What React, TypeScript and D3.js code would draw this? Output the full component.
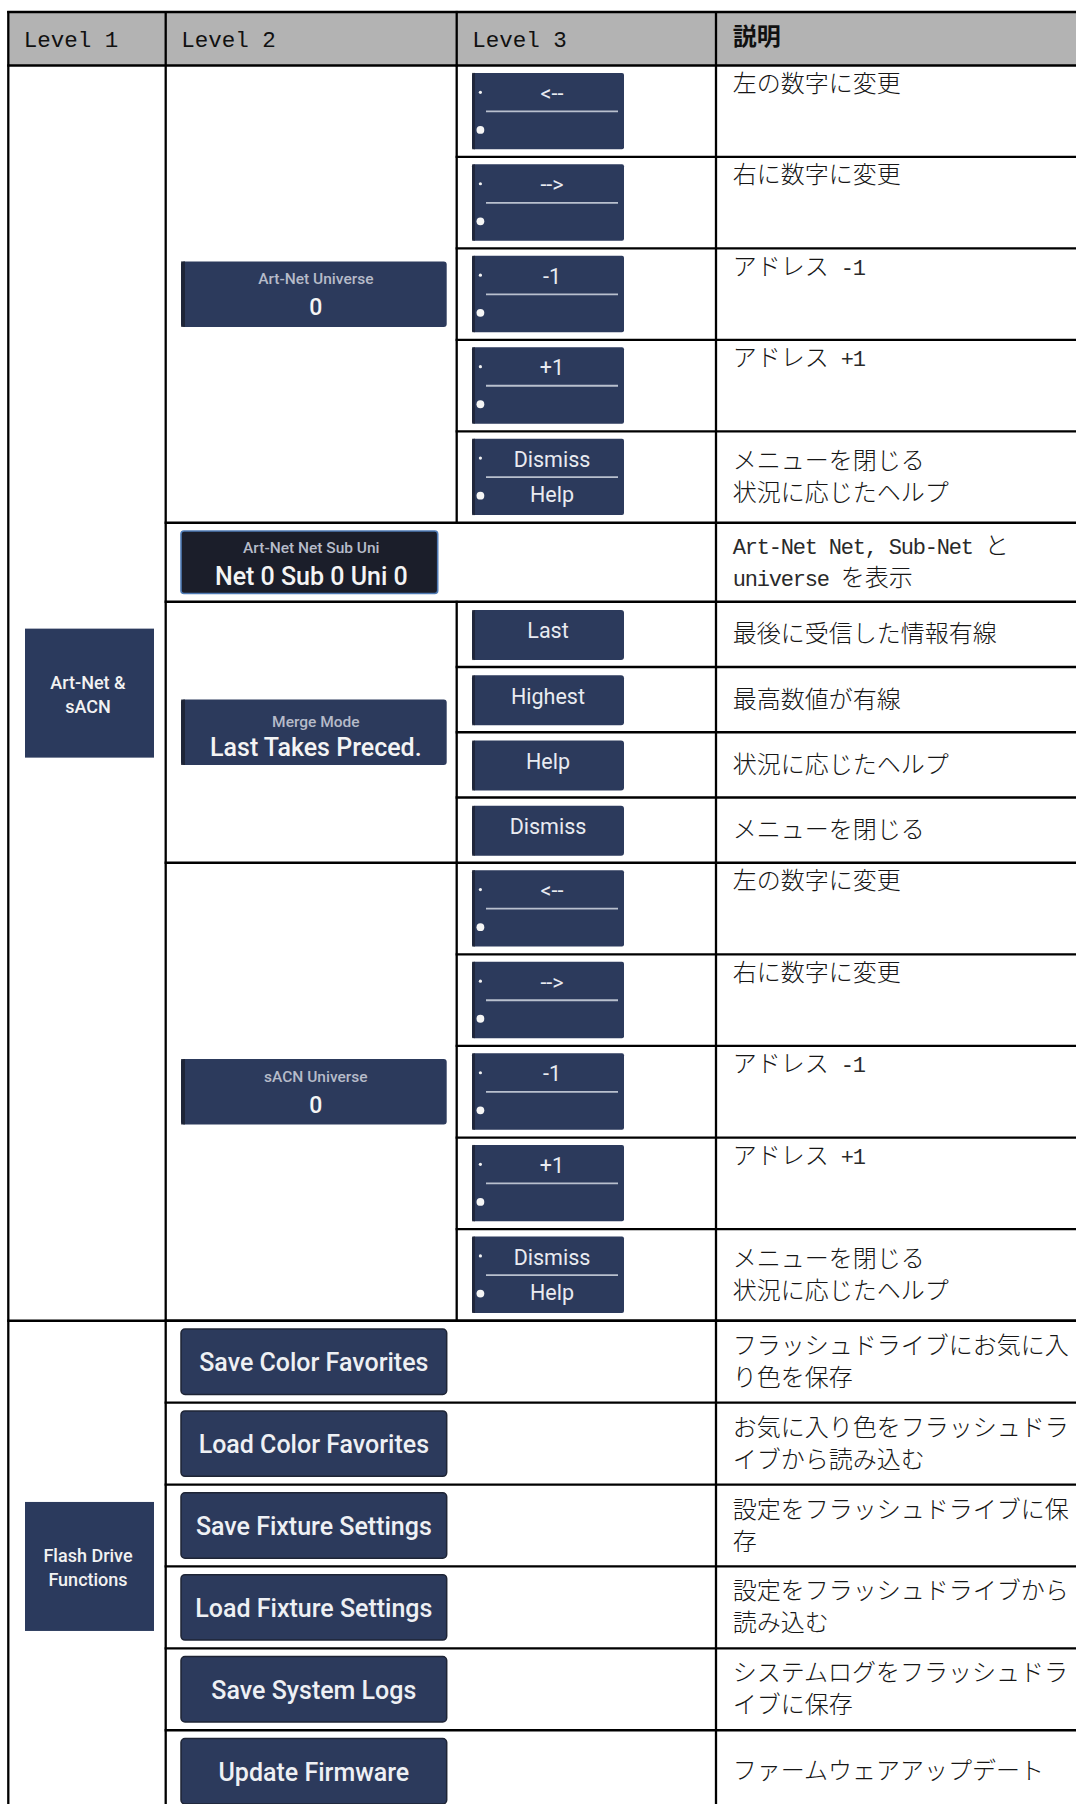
import * as d3 from "d3";

// ---- table content ----
const headers = ["Level 1", "Level 2", "Level 3", "説明"];
const level1Names = [
  ["Art-Net &", "sACN"],
  ["Flash Drive", "Functions"],
];

const universeKeys = ["<--", "-->", "-1", "+1", "Dismiss"];
const universeSubKeys = ["", "", "", "", "Help"];
const universeDesc = [
  ["左の数字に変更"],
  ["右に数字に変更"],
  ["アドレス -1"],
  ["アドレス +1"],
  ["メニューを閉じる", "状況に応じたヘルプ"],
];

const artNetPanel = ["Art-Net Universe", "0"];
const netPanel = ["Art-Net Net Sub Uni", "Net 0 Sub 0 Uni 0"];
const netDesc = ["Art-Net Net, Sub-Net と", "universe を表示"];

const mergePanel = ["Merge Mode", "Last Takes Preced."];
const mergeKeys = ["Last", "Highest", "Help", "Dismiss"];
const mergeDesc = [
  ["最後に受信した情報有線"],
  ["最高数値が有線"],
  ["状況に応じたヘルプ"],
  ["メニューを閉じる"],
];

const sacnPanel = ["sACN Universe", "0"];

const flashKeys = [
  "Save Color Favorites",
  "Load Color Favorites",
  "Save Fixture Settings",
  "Load Fixture Settings",
  "Save System Logs",
  "Update Firmware",
];
const flashDesc = [
  ["フラッシュドライブにお気に入", "り色を保存"],
  ["お気に入り色をフラッシュドラ", "イブから読み込む"],
  ["設定をフラッシュドライブに保", "存"],
  ["設定をフラッシュドライブから", "読み込む"],
  ["システムログをフラッシュドラ", "イブに保存"],
  ["ファームウェアアップデート"],
];

// ---- layout ----
const width = 1076;
const height = 1804;
const tableLeft = 8.3;
const tableTop = 12;
const headerH = 53.5;
const colW = [157.4, 291, 259.3, 400];
const colX = [tableLeft, ...Array.from(d3.cumsum(colW), (c) => tableLeft + c)];
const bodyTop = tableTop + headerH;

const navy = "#2c3a5c";
const edge = "#1b2030";
const ui = "Roboto, 'Noto Sans', sans-serif";
const mono = "'Liberation Mono', 'DejaVu Sans Mono', monospace";
const jp = "'Noto Sans CJK JP', 'Noto Sans', sans-serif";

const groups = [
  { kind: "universe", l1: 0, n: 5, h: 91.45, panel: artNetPanel, keys: universeKeys, subs: universeSubKeys, desc: universeDesc },
  { kind: "net", l1: 0, n: 1, h: 79, panel: netPanel, desc: [netDesc] },
  { kind: "merge", l1: 0, n: 4, h: 65.25, panel: mergePanel, keys: mergeKeys, desc: mergeDesc },
  { kind: "universe", l1: 0, n: 5, h: 91.6, panel: sacnPanel, keys: universeKeys, subs: universeSubKeys, desc: universeDesc },
  { kind: "flash", l1: 1, n: 6, h: 81.9, keys: flashKeys, desc: flashDesc },
];
const groupTops = [bodyTop, ...Array.from(d3.cumsum(groups, (g) => g.n * g.h), (c) => bodyTop + c)];

function splitRuns(s) {
  return s.split(/([\x20-\x7e]+)/).filter((r) => r.length);
}

function DescText({ lines, top, h, topAlign }) {
  const pitch = 32;
  const cy = top + h / 2;
  const first = topAlign ? top + 26.5 : cy - ((lines.length - 1) * pitch) / 2 + 8;
  return (
    <text x={colX[3] + 16.7} fontSize={24} fontFamily={jp} fontWeight={300} fill="#161616" style={{ whiteSpace: "pre" }}>
      {lines.map((line, i) => (
        <tspan key={i} x={colX[3] + 16.7} y={first + i * pitch}>
          {splitRuns(line).map((r, j) =>
            /^[\x20-\x7e]+$/.test(r) ? (
              <tspan key={j} fontFamily={mono} fontSize={22} letterSpacing={-1.2} fill="#2a2a2a">
                {r}
              </tspan>
            ) : (
              <tspan key={j}>{r}</tspan>
            )
          )}
        </tspan>
      ))}
    </text>
  );
}

function SplitKey({ top, main, sub }) {
  const x = colX[2] + 15.3;
  const w = 152;
  const h = 76.4;
  return (
    <g>
      <rect x={x} y={top} width={w} height={h} fill={navy} rx={2} />
      <rect x={x} y={top} width={3} height={h} fill={edge} opacity={0.75} />
      <text x={x + w / 2 + 4} y={top + 28} textAnchor="middle" fontFamily={ui} fontWeight={400} fontSize={21.5} fill="#e9ebf1">
        {main}
      </text>
      <line x1={x + 14} x2={x + 146} y1={top + 38.5} y2={top + 38.5} stroke="#b9c0ce" strokeWidth={1.8} />
      {sub && (
        <text x={x + w / 2 + 4} y={top + 63.5} textAnchor="middle" fontFamily={ui} fontWeight={400} fontSize={21.5} fill="#e9ebf1">
          {sub}
        </text>
      )}
      <circle cx={x + 8.4} cy={top + 19.4} r={1.6} fill="#f2f2f2" />
      <circle cx={x + 8.4} cy={top + 57} r={3.9} fill="#f5f5f5" />
    </g>
  );
}

function PlainKey({ top, label }) {
  const x = colX[2] + 15.3;
  const w = 152;
  const h = 50;
  return (
    <g>
      <rect x={x} y={top} width={w} height={h} fill={navy} rx={3} />
      <rect x={x} y={top} width={3} height={h} fill={edge} opacity={0.75} />
      <text x={x + w / 2} y={top + 28.3} textAnchor="middle" fontFamily={ui} fontWeight={400} fontSize={21.5} fill="#e9ebf1">
        {label}
      </text>
    </g>
  );
}

function Panel({ cy, label, value, kind }) {
  const x = colX[1] + 15.3;
  const isNet = kind === "net";
  const w = isNet ? 256.7 : 265.7;
  const h = isNet ? 62.6 : 65.5;
  const top = cy - h / 2;
  const isMerge = kind === "merge";
  const labelY = isMerge ? top + 27.4 : top + 22.5;
  const valueY = isMerge ? top + 56.7 : top + 54;
  const valueSize = kind === "universe" ? 23 : 25;
  return (
    <g>
      <rect
        x={x}
        y={top}
        width={w}
        height={h}
        rx={3}
        fill={isNet ? "#1b1e2a" : navy}
        stroke={isNet ? "#4f7bb5" : "none"}
        strokeWidth={1.6}
      />
      {!isNet && <rect x={x} y={top} width={4} height={h} fill={edge} opacity={0.8} />}
      <text x={x + w / 2 + 2} y={labelY} textAnchor="middle" fontFamily={ui} fontWeight={500} fontSize={15.5} fill="#b6bbc9">
        {label}
      </text>
      <text x={x + w / 2 + 2} y={valueY} textAnchor="middle" fontFamily={ui} fontWeight={500} fontSize={valueSize} fill="#f4f4f4">
        {value}
      </text>
    </g>
  );
}

function FlashKey({ top, label }) {
  const x = colX[1] + 15.3;
  const w = 265.7;
  const h = 65.4;
  return (
    <g>
      <rect x={x} y={top} width={w} height={h} rx={4} fill={navy} stroke="#1e2435" strokeWidth={1.5} />
      <text x={x + w / 2} y={top + 42.4} textAnchor="middle" fontFamily={ui} fontWeight={500} fontSize={25} fill="#eef0f4">
        {label}
      </text>
    </g>
  );
}

export default function App() {
  const right = colX[4];
  const bottom = groupTops[groupTops.length - 1];

  // level 1 spans
  const l1Spans = d3.range(level1Names.length).map((k) => {
    const idx = groups.map((g, i) => (g.l1 === k ? i : -1)).filter((i) => i >= 0);
    return [groupTops[idx[0]], groupTops[idx[idx.length - 1] + 1]];
  });

  const hLines = [];
  const vLines = [];
  hLines.push([tableLeft, right, tableTop]);
  hLines.push([tableLeft, right, bodyTop]);
  l1Spans.forEach(([, b]) => hLines.push([tableLeft, right, b]));
  vLines.push([tableLeft, tableTop, bottom]);
  vLines.push([colX[1], tableTop, bottom]);
  vLines.push([colX[3], tableTop, bottom]);
  vLines.push([colX[2], tableTop, bodyTop]);

  groups.forEach((g, gi) => {
    const t = groupTops[gi];
    const b = groupTops[gi + 1];
    hLines.push([colX[1], right, b]);
    const spans = g.kind === "net" || g.kind === "flash";
    if (!spans) vLines.push([colX[2], t, b]);
    d3.range(1, g.n).forEach((r) => {
      hLines.push([spans ? colX[1] : colX[2], right, t + r * g.h]);
    });
  });

  return (
    <svg width={width} height={height} style={{ position: "absolute", left: 0, top: 0, background: "#fff" }}>
      <rect x={tableLeft} y={tableTop} width={right - tableLeft} height={headerH} fill="#b3b3b3" />
      {headers.map((hd, i) =>
        i < 3 ? (
          <text key={hd} x={colX[i] + 15.5} y={tableTop + 34.5} fontFamily={mono} fontSize={22.5} fill="#111">
            {hd}
          </text>
        ) : (
          <text key={hd} x={colX[i] + 16.7} y={tableTop + 32.5} fontFamily={jp} fontWeight={700} fontSize={24} fill="#111">
            {hd}
          </text>
        )
      )}

      {l1Spans.map(([t, b], k) => {
        const cy = (t + b) / 2;
        const s = 129;
        const x = tableLeft + 16.7;
        return (
          <g key={k}>
            <rect x={x} y={cy - s / 2} width={s} height={s} fill="#2b3a5d" />
            {level1Names[k].map((ln, i) => (
              <text
                key={i}
                x={x + s / 2 - 1.5}
                y={cy - s / 2 + 60.5 + i * 23.5}
                textAnchor="middle"
                fontFamily={ui}
                fontWeight={500}
                fontSize={18}
                fill="#f2f2f2"
              >
                {ln}
              </text>
            ))}
          </g>
        );
      })}

      {groups.map((g, gi) => {
        const t = groupTops[gi];
        const b = groupTops[gi + 1];
        return (
          <g key={gi}>
            {g.panel && <Panel cy={(t + b) / 2} label={g.panel[0]} value={g.panel[1]} kind={g.kind} />}
            {d3.range(g.n).map((r) => {
              const rt = t + r * g.h;
              return (
                <g key={r}>
                  {g.kind === "universe" && <SplitKey top={rt + 7.4} main={g.keys[r]} sub={g.subs[r]} />}
                  {g.kind === "merge" && <PlainKey top={rt + 8.3} label={g.keys[r]} />}
                  {g.kind === "flash" && <FlashKey top={rt + g.h / 2 - 32.7} label={g.keys[r]} />}
                  <DescText
                    lines={g.desc[r]}
                    top={rt}
                    h={g.h}
                    topAlign={g.kind === "universe" && g.desc[r].length === 1}
                  />
                </g>
              );
            })}
          </g>
        );
      })}

      {hLines.map(([x1, x2, y], i) => (
        <line key={"h" + i} x1={x1 - 1.1} x2={x2} y1={y} y2={y} stroke="#000" strokeWidth={2.3} />
      ))}
      {vLines.map(([x, y1, y2], i) => (
        <line key={"v" + i} x1={x} x2={x} y1={y1 - 1.1} y2={y2 + 1.1} stroke="#000" strokeWidth={2.3} />
      ))}
    </svg>
  );
}
